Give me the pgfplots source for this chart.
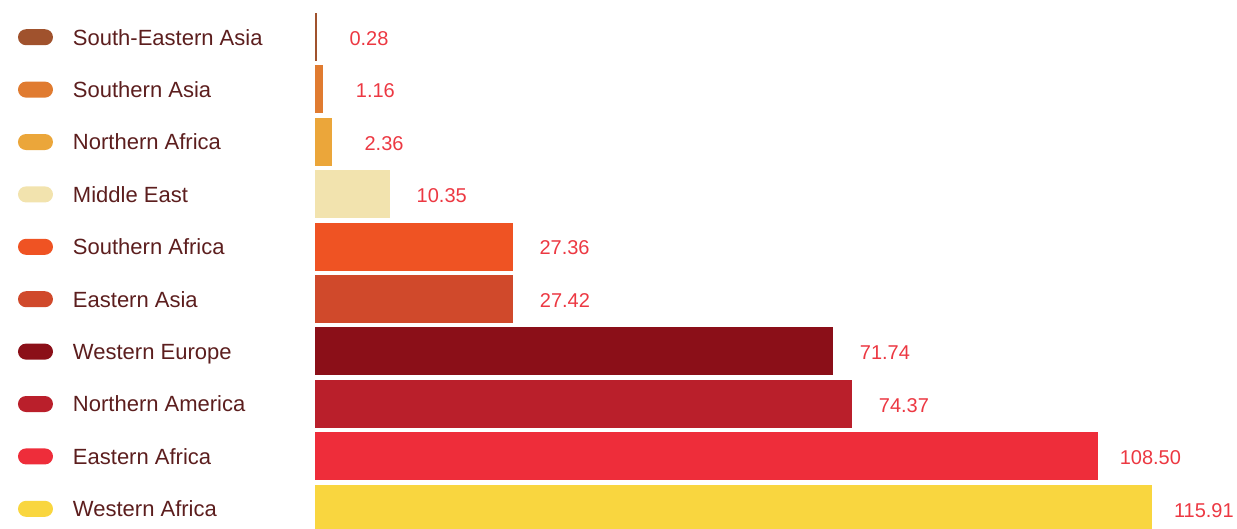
\documentclass[border=0pt]{standalone}
\usepackage{fontspec}
\setmainfont{Liberation Sans}
\usepackage{pgfplots}
\pgfplotsset{compat=1.18}

\definecolor{cSEA}{RGB}{160,82,45}
\definecolor{cSA}{RGB}{224,123,48}
\definecolor{cNAf}{RGB}{235,166,58}
\definecolor{cME}{RGB}{242,227,174}
\definecolor{cSAf}{RGB}{239,83,35}
\definecolor{cEA}{RGB}{208,73,43}
\definecolor{cWE}{RGB}{139,15,24}
\definecolor{cNAm}{RGB}{186,31,43}
\definecolor{cEAf}{RGB}{238,45,58}
\definecolor{cWAf}{RGB}{249,214,63}
\definecolor{labelred}{RGB}{236,56,66}
\definecolor{legtext}{RGB}{92,30,30}

\pgfplotsset{
  pill/.style={xbar, bar width=48pt, bar shift=0pt, fill=#1, draw=none,
    legend image code/.code={\fill[#1, rounded corners=8pt] (0pt,-8pt) rectangle (35pt,8pt);}},
}

\begin{document}
\begin{tikzpicture}
\begin{axis}[
  scale only axis,
  width=922pt, height=528pt,
  xmin=0, xmax=127.7,
  ymin=-0.706, ymax=9.37,
  y dir=reverse,
  hide axis,
  point meta=explicit symbolic,
  nodes near coords,
  nodes near coords style={anchor=center, xshift=52pt, yshift=-1.5pt,
    font=\fontsize{20}{22}\selectfont, text=labelred},
  legend cell align=left,
  legend style={draw=none, fill=none, inner sep=0pt, outer sep=0pt,
    at={(axis description cs:0,1)}, anchor=north west,
    xshift=-297pt, yshift=-19pt,
    column sep=20pt, row sep=16pt,
    nodes={inner sep=0pt, text height=26.1pt, text depth=10.3pt,
      font=\fontsize{22}{24}\selectfont, text=legtext}},
]
\addplot[pill=cSEA] coordinates {(0.28,0) [0.28]};
\addlegendentry{South-Eastern Asia}
\addplot[pill=cSA] coordinates {(1.16,1) [1.16]};
\addlegendentry{Southern Asia}
\addplot[pill=cNAf] coordinates {(2.36,2) [2.36]};
\addlegendentry{Northern Africa}
\addplot[pill=cME] coordinates {(10.35,3) [10.35]};
\addlegendentry{Middle East}
\addplot[pill=cSAf] coordinates {(27.36,4) [27.36]};
\addlegendentry{Southern Africa}
\addplot[pill=cEA] coordinates {(27.42,5) [27.42]};
\addlegendentry{Eastern Asia}
\addplot[pill=cWE] coordinates {(71.74,6) [71.74]};
\addlegendentry{Western Europe}
\addplot[pill=cNAm] coordinates {(74.37,7) [74.37]};
\addlegendentry{Northern America}
\addplot[pill=cEAf] coordinates {(108.50,8) [108.50]};
\addlegendentry{Eastern Africa}
\addplot[pill=cWAf] coordinates {(115.91,9) [115.91]};
\addlegendentry{Western Africa}
\end{axis}
\pgfresetboundingbox
\path[use as bounding box] ([xshift=-315pt]current axis.south west) rectangle (current axis.north east);
\end{tikzpicture}
\end{document}
